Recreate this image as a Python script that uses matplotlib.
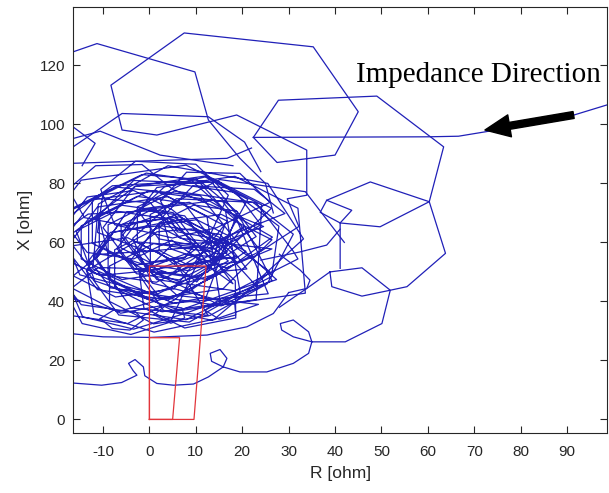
import matplotlib
matplotlib.use("Agg")
import matplotlib.pyplot as plt

plt.rcParams["axes.unicode_minus"] = False

# ---------------- data (R [ohm], X [ohm]) ----------------
start_R = [99.0, 91.3, 80.0, 72.4, 66.6, 60.0, 22.4]
start_X = [106.8, 103.1, 99.6, 97.5, 96.0, 95.8, 95.6]

outer_loops = [
    # big top loop
    [(22.4, 95.6), (27.5, 87.1), (40.0, 89.6), (45.0, 104.3), (35.3, 126.3), (7.5, 131.0),
     (-8.3, 113.3), (-5.9, 98.1), (1.6, 96.4), (18.8, 103.2), (33.9, 91.3), (33.9, 76.0),
     (29.7, 74.8), (32.2, 65.4), (24.0, 57.0)],
    # right top loop
    [(22.4, 95.6), (27.8, 108.2), (49.0, 109.6), (63.4, 92.4), (60.3, 73.8), (49.7, 65.3),
     (41.1, 66.6), (41.1, 51.2)],
    # small diamond
    [(41.1, 66.6), (43.6, 70.9), (38.2, 74.3), (36.8, 70.2), (41.1, 66.6)],
    # right middle loop sweeping to the bottom
    [(38.2, 74.3), (47.6, 80.5), (60.3, 73.8), (63.8, 56.3), (55.5, 45.0), (51.9, 43.8),
     (50.1, 32.5), (42.2, 26.3), (35.0, 26.3), (31.0, 28.0), (28.5, 30.3), (28.2, 32.5),
     (31.0, 33.7), (34.3, 29.7), (35.0, 26.3), (34.3, 22.4), (31.0, 19.0), (25.3, 16.1),
     (19.5, 16.1), (15.9, 17.8), (16.7, 20.7), (15.2, 23.7), (13.1, 22.4), (13.4, 19.7),
     (15.9, 17.8), (12.7, 14.4), (9.5, 12.0), (5.2, 11.6), (1.6, 12.2), (-1.0, 14.8),
     (-1.3, 17.8), (-3.1, 20.3), (-4.5, 19.0), (-3.5, 16.5), (-2.7, 15.0), (-6.0, 12.5),
     (-10.3, 11.6), (-17.0, 12.4)],
    # small hexagon right
    [(30.0, 43.0), (33.9, 44.4), (38.9, 50.0), (45.8, 51.4), (51.9, 43.8), (45.8, 41.8),
     (39.3, 45.0), (38.9, 50.0)],
    [(24.0, 54.0), (32.5, 56.8), (38.2, 59.1), (41.1, 64.5)],
    [(28.0, 56.0), (32.5, 50.6), (34.6, 47.2), (33.9, 44.4), (28.0, 38.0)],
    # top-left pieces
    [(-17.0, 124.3), (-11.3, 127.4), (9.8, 117.8), (12.7, 101.5), (19.5, 88.5), (25.0, 80.0),
     (26.7, 70.0)],
    [(-17.0, 91.8), (-5.9, 103.7), (12.7, 102.6), (20.5, 94.0), (24.0, 84.0)],
    [(-17.0, 99.8), (-11.7, 93.6), (-14.5, 86.0)],
    [(-17.0, 95.0), (-10.6, 97.7), (2.3, 89.6), (18.0, 86.0)],
    [(-17.0, 86.8), (16.7, 88.5), (22.0, 92.0)],
    # lower band
    [(-17.0, 29.1), (-10.0, 28.0), (0.2, 27.8), (12.4, 28.6), (21.0, 31.4), (26.7, 35.9), (30.0, 43.0)],
    [(-10.6, 34.2), (-7.8, 37.0), (-3.0, 36.5), (-1.3, 33.7), (-4.2, 30.3), (-8.0, 30.8), (-10.6, 34.2)],
    [(1.0, 35.5), (3.5, 38.6), (7.0, 37.8), (7.6, 34.4), (4.6, 32.6), (1.0, 35.5)],
    [(12.0, 37.0), (14.6, 40.2), (18.4, 39.0), (18.6, 35.4), (15.0, 34.0), (12.0, 37.0)],
]

inner_loops = [
    [(42.0, 60.0), (33.6, 77.2), (15.2, 81.3), (0.2, 69.5), (0.2, 50.5), (15.2, 38.7), (33.6, 42.8)],
    [(32.0, 71.6), (18.4, 82.4), (1.6, 78.6), (-6.0, 63.0), (1.6, 47.4), (18.4, 43.6), (32.0, 54.4)],
    [(31.0, 57.0), (23.0, 73.4), (5.4, 77.4), (-8.9, 66.0), (-8.9, 48.0), (5.4, 36.6), (23.0, 40.6)],
    [(24.2, 72.7), (12.0, 82.5), (-3.2, 79.0), (-10.0, 65.0), (-3.2, 51.0), (12.0, 47.5), (24.2, 57.3)],
    [(23.0, 59.0), (15.8, 73.8), (-0.2, 77.4), (-13.1, 67.2), (-13.1, 50.8), (-0.2, 40.6), (15.8, 44.2)],
    [(26.4, 60.9), (15.5, 69.5), (2.1, 66.5), (-4.0, 54.0), (2.1, 41.5), (15.5, 38.5), (26.4, 47.1)],
    [(20.0, 67.0), (13.5, 80.3), (-0.7, 83.5), (-12.3, 74.3), (-12.3, 59.7), (-0.7, 50.5), (13.5, 53.7)],
    [(16.2, 65.7), (4.0, 75.5), (-11.2, 72.0), (-18.0, 58.0), (-11.2, 44.0), (4.0, 40.5), (16.2, 50.3)],
    [(21.0, 51.0), (15.3, 62.7), (2.7, 65.6), (-7.5, 57.5), (-7.5, 44.5), (2.7, 36.5), (15.3, 39.3)],
    [(12.4, 68.9), (1.5, 77.5), (-11.9, 74.5), (-18.0, 62.0), (-11.9, 49.5), (1.5, 46.5), (12.4, 55.1)],
    [(24.0, 66.0), (18.7, 76.9), (6.9, 79.6), (-2.6, 72.0), (-2.6, 60.0), (6.9, 52.4), (18.7, 55.1)],
    [(14.6, 61.0), (5.1, 68.6), (-6.7, 65.9), (-12.0, 55.0), (-6.7, 44.1), (5.1, 41.4), (14.6, 49.0)],
    [(11.0, 56.0), (5.3, 67.7), (-7.3, 70.6), (-17.5, 62.5), (-17.5, 49.5), (-7.3, 41.5), (5.3, 44.3)],
    [(16.8, 67.2), (8.6, 73.6), (-1.4, 71.4), (-6.0, 62.0), (-1.4, 52.6), (8.6, 50.4), (16.8, 56.8)],
    [(12.0, 64.0), (7.4, 73.4), (-2.6, 75.6), (-10.8, 69.2), (-10.8, 58.8), (-2.6, 52.4), (7.4, 54.6)],
    [(13.9, 62.7), (6.4, 68.7), (-2.8, 66.6), (-7.0, 58.0), (-2.8, 49.4), (6.4, 47.3), (13.9, 53.3)],
    [(10.0, 60.0), (5.1, 70.1), (-5.9, 72.6), (-14.7, 65.6), (-14.7, 54.4), (-5.9, 47.4), (5.1, 49.9)],
    [(17.0, 62.3), (10.2, 67.7), (1.8, 65.8), (-2.0, 58.0), (1.8, 50.2), (10.2, 48.3), (17.0, 53.7)],
    [(11.0, 62.0), (7.6, 69.0), (0.0, 70.7), (-6.1, 65.9), (-6.1, 58.1), (0.0, 53.3), (7.6, 55.0)],
    [(9.8, 59.2), (1.6, 65.6), (-8.4, 63.4), (-13.0, 54.0), (-8.4, 44.6), (1.6, 42.4), (9.8, 48.8)],
    [(23.0, 62.0), (18.8, 70.6), (9.6, 72.7), (2.1, 66.7), (2.1, 57.3), (9.6, 51.3), (18.8, 53.4)],
    [(4.8, 71.2), (-3.4, 77.6), (-13.4, 75.4), (-18.0, 66.0), (-13.4, 56.6), (-3.4, 54.4), (4.8, 60.8)],
    [(18.0, 46.0), (12.7, 56.9), (0.9, 59.6), (-8.6, 52.0), (-8.6, 40.0), (0.9, 32.4), (12.7, 35.1)],
    [(5.5, 53.5), (-4.7, 61.6), (-17.3, 58.7), (-23.0, 47.0), (-17.3, 35.3), (-4.7, 32.5), (5.5, 40.6)],
    [(26.3, 71.6), (7.9, 86.2), (-14.7, 81.1), (-25.0, 60.0), (-14.7, 38.9), (7.9, 33.8), (26.3, 48.4)],
    [(27.9, 65.5), (15.0, 80.6), (-3.0, 79.0), (-15.8, 64.0), (-11.8, 47.0), (6.5, 37.0), (22.5, 45.9)],
    [(33.2, 61.2), (25.5, 80.0), (4.0, 86.0), (-11.0, 73.0), (-12.2, 51.0), (5.2, 39.4), (25.6, 42.6)],
    [(19.0, 67.0), (9.2, 80.8), (-8.0, 79.2), (-19.5, 66.4), (-15.0, 49.0), (0.6, 42.8), (16.2, 50.2)],
    [(26.5, 61.8), (13.0, 74.0), (-5.0, 70.2), (-11.4, 54.6), (-4.0, 37.8), (13.0, 35.2), (25.4, 46.0)],
    [(31.0, 62.8), (22.3, 73.6), (5.8, 74.8), (-3.6, 61.4), (0.6, 46.2), (14.6, 40.6), (27.4, 47.4)],
    [(20.4, 57.2), (11.0, 75.8), (-7.4, 78.8), (-21.8, 67.5), (-21.0, 48.0), (-6.2, 36.0), (12.2, 41.4)],
    [(19.0, 70.2), (11.5, 80.0), (-3.4, 81.0), (-11.0, 69.0), (-9.0, 56.6), (4.6, 49.4), (16.0, 55.6)],
    [(12.0, 57.4), (1.2, 70.8), (-13.2, 69.6), (-23.6, 58.0), (-19.4, 42.2), (-6.6, 36.6), (8.6, 43.4)],
    [(20.8, 57.0), (7.4, 68.0), (-7.8, 63.4), (-13.6, 50.6), (-6.6, 35.4), (8.6, 33.0), (19.6, 42.8)],
    [(16.4, 70.6), (10.2, 81.4), (-1.6, 83.0), (-10.0, 76.6), (-11.2, 63.4), (-0.6, 57.0), (11.2, 58.6)],
    [(29.2, 69.8), (22.6, 78.0), (9.4, 79.2), (2.8, 68.6), (4.6, 57.8), (16.6, 51.4), (26.4, 57.8)],
    [(6.6, 61.4), (0.2, 73.4), (-11.6, 75.0), (-20.6, 68.0), (-20.0, 55.4), (-10.6, 48.8), (1.2, 50.6)],
    [(15.2, 58.6), (9.4, 64.6), (1.6, 63.6), (-3.2, 57.6), (-0.4, 50.8), (6.6, 46.6), (12.6, 50.0)],
    [(21.2, 74.6), (12.0, 82.2), (3.2, 78.8), (-2.4, 70.6), (2.0, 61.2), (13.2, 58.0), (20.4, 65.4)],
    [(10.2, 46.6), (1.6, 57.2), (-10.6, 56.0), (-17.7, 47.1), (-14.4, 34.8), (-3.4, 30.6), (7.4, 35.8)],
    [(23.4, 44.6), (17.6, 54.6), (7.6, 56.0), (-2.2, 50.2), (-1.2, 37.8), (7.6, 31.0), (18.6, 34.4)],
    [(18.5, 47.0), (10.5, 58.5), (-3.0, 60.2), (-13.5, 50.5), (-12.0, 36.0), (1.0, 29.6), (14.0, 34.0)],
    [(26.0, 50.0), (17.0, 60.2), (5.0, 59.4), (-2.0, 48.6), (3.0, 37.0), (13.5, 33.6), (23.5, 39.0)],
    [(6.0, 42.0), (-0.5, 51.0), (-11.0, 51.5), (-18.0, 43.0), (-14.5, 32.5), (-4.0, 28.8), (4.5, 33.0)],
    [(17.0, 76.0), (10.0, 86.5), (-3.0, 87.5), (-10.5, 78.0), (-7.5, 66.0), (5.0, 61.5), (14.5, 65.0)],
    [(26.0, 73.6), (19.5, 83.4), (8.0, 83.8), (2.4, 74.0), (6.0, 63.6), (16.6, 60.6), (24.6, 65.4)],
    [(5.0, 78.0), (-1.6, 86.4), (-11.6, 86.0), (-17.5, 78.0), (-14.0, 68.4), (-4.6, 65.6), (3.4, 70.0)],
]

# relay zones (red)
zone1_R = [0.0, 5.0, 6.5, 0.0, 0.0]
zone1_X = [0.0, 0.0, 27.7, 27.7, 0.0]
zone2_R = [0.0, 9.6, 12.2, 0.0, 0.0]
zone2_X = [0.0, 0.0, 52.0, 52.0, 0.0]

x_ticks = [-10, 0, 10, 20, 30, 40, 50, 60, 70, 80, 90]
y_ticks = [0, 20, 40, 60, 80, 100, 120]

annot_text = "Impedance Direction"
arrow_head = (72.3, 98.1)
arrow_tail = (91.4, 103.2)

# ---------------- plot ----------------
blue = "#2020b8"
red = "#e2353b"
gray = "#262626"

fig = plt.figure(figsize=(6.09, 4.93), dpi=100)
ax = fig.add_axes([0.1204, 0.1217, 0.8763, 0.8635])

ax.plot(start_R, start_X, color=blue, lw=0.9)
for loop in outer_loops:
    r, x = zip(*loop)
    ax.plot(r, x, color=blue, lw=0.9)
path = [p for loop in inner_loops for p in loop]
r, x = zip(*path)
ax.plot(r, x, color=blue, lw=0.9)

ax.plot(zone1_R, zone1_X, color=red, lw=0.9)
ax.plot(zone2_R, zone2_X, color=red, lw=0.9)

ax.text(44.5, 114.5, annot_text, fontsize=21, family="Liberation Serif",
        color="black", ha="left", va="baseline")
ax.annotate("", xy=arrow_head, xytext=arrow_tail,
            arrowprops=dict(arrowstyle="simple,head_width=0.8,head_length=0.9,tail_width=0.25",
                            color="black", mutation_scale=20, shrinkA=0, shrinkB=0))

ax.set_xlim(-16.4, 98.6)
ax.set_ylim(-4.6, 139.7)
ax.set_xticks(x_ticks)
ax.set_yticks(y_ticks)
ax.tick_params(direction="in", length=5, width=0.8, top=True, right=True,
               labelsize=11, colors=gray)
ax.tick_params(axis="x", pad=8.5)
ax.tick_params(axis="y", pad=6)
for lab in ax.get_xticklabels() + ax.get_yticklabels():
    lab.set_family("Liberation Sans")
for s in ax.spines.values():
    s.set_color(gray)
    s.set_linewidth(0.8)
ax.set_xlabel("R [ohm]", fontsize=12.5, color=gray, labelpad=5, family="Liberation Sans")
ax.set_ylabel("X [ohm]", fontsize=12.5, color=gray, labelpad=5, family="Liberation Sans")

fig.savefig("out.png", dpi=100)
